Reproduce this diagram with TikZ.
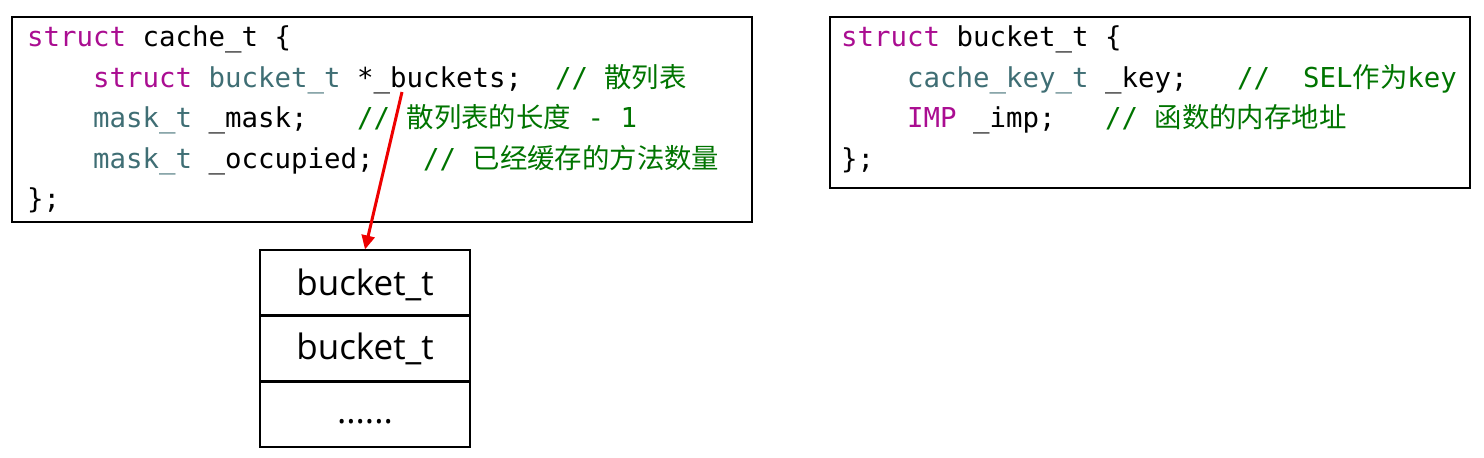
\documentclass[tikz,border=0pt]{standalone}
\usepackage{fontspec}
\setmonofont{DejaVu Sans Mono}
\newfontfamily\cjk{Noto Sans CJK SC}
\newfontfamily\cellfont{Open Sans}
\usetikzlibrary{arrows.meta}
\definecolor{kwpurple}{RGB}{170,13,145}
\definecolor{typeteal}{RGB}{63,110,116}
\definecolor{cmtgreen}{RGB}{0,116,0}
\definecolor{ptrred}{RGB}{238,0,0}
\newcommand{\kw}[1]{\textcolor{kwpurple}{#1}}
\newcommand{\ty}[1]{\textcolor{typeteal}{#1}}
\newcommand{\cmt}[1]{\textcolor{cmtgreen}{#1}}
\newcommand{\zh}[1]{{\cjk #1}}
\tikzset{
  codeline/.style={anchor=base west, inner sep=0pt,
    font=\ttfamily\fontsize{27.4}{27.4}\selectfont},
  cell/.style={draw, line width=1.6pt, minimum width=210pt, minimum height=64.5pt,
    inner sep=0pt},
  celltext/.style={anchor=base, inner sep=0pt, font=\cellfont\fontsize{35}{35}\selectfont},
  codebox/.style={draw, line width=1.6pt}
}
\begin{document}
\begin{tikzpicture}[x=1pt, y=-1pt]
    \useasboundingbox (0,0) rectangle (1484,458);
    % cache_t
    \draw[codebox] (12,17) rectangle (752,222);
    \node[codeline] (c1) at (27,46.5) {\kw{struct} cache\_t \{};
    \node[codeline] (c2) at (93,87) {\kw{struct} \ty{bucket\_t} *\_buckets;~~\cmt{// \zh{散列表}}};
    \node[codeline] (c3) at (93,127.5) {\ty{mask\_t} \_mask;~~~\cmt{// \zh{散列表的长度} - 1}};
    \node[codeline] (c4) at (93,168) {\ty{mask\_t} \_occupied;~~~\cmt{// \zh{已经缓存的方法数量}}};
    \node[codeline] (c5) at (27,208.5) {\};};
    % bucket_t
    \draw[codebox] (830,17) rectangle (1470,188);
    \node[codeline] (k1) at (841,46.5) {\kw{struct} bucket\_t \{};
    \node[codeline] (k2) at (907,87) {\ty{cache\_key\_t} \_key;~~~\cmt{//~~SEL\zh{作为}key}};
    \node[codeline] (k3) at (907,127.5) {\kw{IMP} \_imp;~~~\cmt{// \zh{函数的内存地址}}};
    \node[codeline] (k4) at (841,168) {\};};
    % buckets array
    \node[cell] (b1) at (365,282.5) {};
    \node[cell, anchor=north] (b2) at (b1.south) {};
    \node[cell, anchor=north] (b3) at (b2.south) {};
    \node[celltext] (t1) at (365,295) {bucket\_t};
    \node[celltext] (t2) at (365,359) {bucket\_t};
    \node[celltext] (t3) at (365,423) {......};
    % pointer
    \coordinate (bptr) at (402,92);
    \draw[ptrred, line width=3pt, -{Triangle[length=14pt,width=13pt]}] (bptr) -- (b1.north);
\end{tikzpicture}
\end{document}
